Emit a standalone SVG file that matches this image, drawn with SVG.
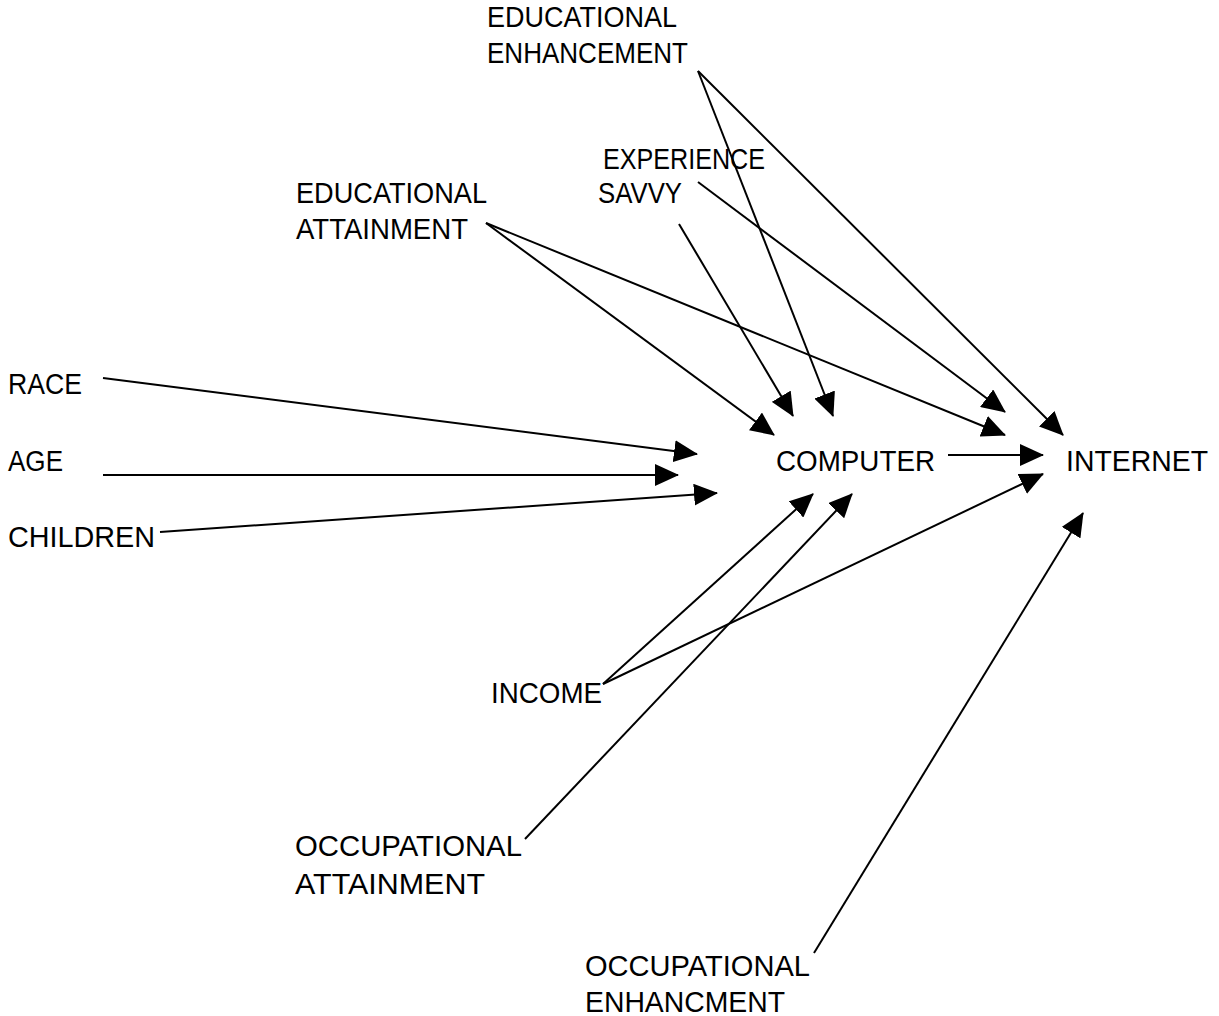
<svg xmlns="http://www.w3.org/2000/svg" width="1219" height="1016" viewBox="0 0 1219 1016">
<style>
text{font-family:"Liberation Sans",Arial,sans-serif;font-size:30px;fill:#000}
.c{stroke:#000;stroke-width:2;fill:none;marker-end:url(#ah)}
</style>
<defs>
<marker id="ah" markerUnits="userSpaceOnUse" markerWidth="24" markerHeight="22" viewBox="0 0 24 22" refX="23" refY="11" orient="auto">
<path d="M0,0 L24,11 L0,22 z" fill="#000"/>
</marker>
</defs>
<rect width="1219" height="1016" fill="#fff"/>
<g id="connectors">
<line class="c" x1="698" y1="71" x2="833" y2="416"/>
<line class="c" x1="698" y1="71" x2="1063" y2="435"/>
<line class="c" x1="698" y1="182" x2="1005" y2="412"/>
<line class="c" x1="679" y1="224" x2="793" y2="416"/>
<line class="c" x1="486" y1="223" x2="774" y2="435"/>
<line class="c" x1="486" y1="223" x2="1005" y2="435"/>
<line class="c" x1="103" y1="378" x2="697" y2="454"/>
<line class="c" x1="103" y1="475" x2="678" y2="475"/>
<line class="c" x1="160" y1="532" x2="717" y2="493"/>
<line class="c" x1="948" y1="455" x2="1043" y2="455"/>
<line class="c" x1="603" y1="684" x2="813" y2="494"/>
<line class="c" x1="603" y1="684" x2="1043" y2="474"/>
<line class="c" x1="525" y1="839" x2="852" y2="494"/>
<line class="c" x1="814" y1="953" x2="1083" y2="513"/>
</g>
<g id="educational-enhancement"><text x="487" y="27" textLength="190" lengthAdjust="spacingAndGlyphs">EDUCATIONAL</text><text x="487" y="63" textLength="201" lengthAdjust="spacingAndGlyphs">ENHANCEMENT</text></g>
<g id="experience-savvy"><text x="603" y="169" textLength="162" lengthAdjust="spacingAndGlyphs">EXPERIENCE</text><text x="598" y="203" textLength="84" lengthAdjust="spacingAndGlyphs">SAVVY</text></g>
<g id="educational-attainment"><text x="296" y="203" textLength="191" lengthAdjust="spacingAndGlyphs">EDUCATIONAL</text><text x="296" y="239" textLength="172" lengthAdjust="spacingAndGlyphs">ATTAINMENT</text></g>
<g id="race"><text x="8" y="394" textLength="74" lengthAdjust="spacingAndGlyphs">RACE</text></g>
<g id="age"><text x="8" y="471" textLength="55" lengthAdjust="spacingAndGlyphs">AGE</text></g>
<g id="children"><text x="8" y="547" textLength="147" lengthAdjust="spacingAndGlyphs">CHILDREN</text></g>
<g id="computer"><text x="776" y="471" textLength="159" lengthAdjust="spacingAndGlyphs">COMPUTER</text></g>
<g id="internet"><text x="1066" y="471" textLength="142" lengthAdjust="spacingAndGlyphs">INTERNET</text></g>
<g id="income"><text x="491" y="703" textLength="111" lengthAdjust="spacingAndGlyphs">INCOME</text></g>
<g id="occupational-attainment"><text x="295" y="856" textLength="227" lengthAdjust="spacingAndGlyphs">OCCUPATIONAL</text><text x="295" y="894" textLength="190" lengthAdjust="spacingAndGlyphs">ATTAINMENT</text></g>
<g id="occupational-enhancment"><text x="585" y="976" textLength="225" lengthAdjust="spacingAndGlyphs">OCCUPATIONAL</text><text x="585" y="1012" textLength="200" lengthAdjust="spacingAndGlyphs">ENHANCMENT</text></g>
</svg>
